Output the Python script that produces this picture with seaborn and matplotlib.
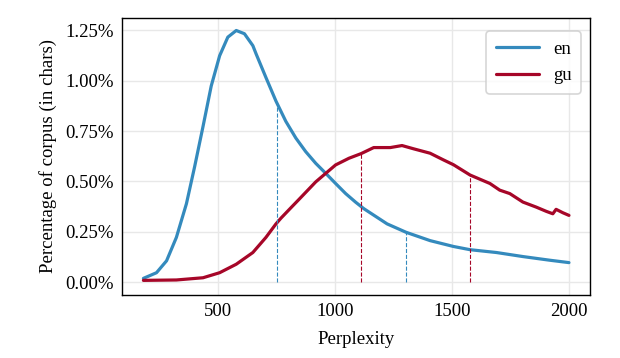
import matplotlib
matplotlib.use("Agg")
import matplotlib.pyplot as plt
import numpy as np
import pandas as pd
import seaborn as sns

# values (perplexity, % of corpus)
en_x = [180, 236, 279, 321, 364, 399, 435, 470, 506, 541, 577, 612, 648, 662, 704, 747, 789, 832,
        874, 917, 960, 1002, 1045, 1087, 1123, 1222, 1304, 1406, 1506, 1577, 1690, 1803, 1917, 2000]
en_y = [0.02, 0.048, 0.107, 0.223, 0.39, 0.573, 0.773, 0.973, 1.123, 1.215, 1.248, 1.232, 1.173,
        1.132, 1.015, 0.898, 0.798, 0.715, 0.648, 0.59, 0.54, 0.49, 0.44, 0.398, 0.365, 0.29,
        0.248, 0.207, 0.178, 0.162, 0.148, 0.128, 0.11, 0.098]

gu_x = [180, 321, 435, 506, 577, 648, 704, 747, 768, 811, 846, 917, 1002, 1059, 1111, 1165, 1236,
        1286, 1335, 1406, 1463, 1506, 1577, 1662, 1704, 1747, 1803, 1860, 1903, 1931, 1945, 1974, 2000]
gu_y = [0.01, 0.012, 0.023, 0.048, 0.09, 0.148, 0.223, 0.29, 0.318, 0.37, 0.412, 0.498, 0.582,
        0.615, 0.638, 0.668, 0.668, 0.678, 0.662, 0.64, 0.607, 0.583, 0.532, 0.49, 0.457, 0.44,
        0.398, 0.373, 0.352, 0.34, 0.362, 0.345, 0.332]

# dashed marker positions (perplexity)
en_marks = [750, 1303]
gu_marks = [1111, 1575]

colors = {"en": "#348ABD", "gu": "#A60628"}

df = pd.concat([
    pd.DataFrame({"Perplexity": en_x, "pct": en_y, "lang": "en"}),
    pd.DataFrame({"Perplexity": gu_x, "pct": gu_y, "lang": "gu"}),
])

sns.set_style("whitegrid")
plt.rcParams["font.family"] = ["Liberation Serif", "DejaVu Serif"]
plt.rcParams["font.size"] = 13.5
plt.rcParams["text.color"] = "black"
plt.rcParams["axes.labelcolor"] = "black"
plt.rcParams["xtick.color"] = "black"
plt.rcParams["ytick.color"] = "black"

fig = plt.figure(figsize=(6.2, 3.58), dpi=100)
ax = fig.add_axes([0.197, 0.176, 0.755, 0.774])

sns.lineplot(data=df, x="Perplexity", y="pct", hue="lang", palette=colors, linewidth=2.3, ax=ax)

for marks, xs, ys, lang in [(en_marks, en_x, en_y, "en"), (gu_marks, gu_x, gu_y, "gu")]:
    for m in marks:
        top = np.interp(m, xs, ys)
        ax.plot([m, m], [0, top], linestyle="--", color=colors[lang], linewidth=0.8)

yt = [0, 0.25, 0.5, 0.75, 1.0, 1.25]
ax.set_xticks([500, 1000, 1500, 2000])
ax.set_yticks(yt)
ax.set_yticklabels([f"{v:.2f}%" for v in yt])
ax.set_xlabel("Perplexity", fontsize=13.5, labelpad=8)
ax.set_ylabel("Percentage of corpus (in chars)", fontsize=13.5, labelpad=6)
ax.tick_params(direction="in", length=4, width=1, labelsize=13.5, pad=6)
ax.grid(True, color="#e8e8e8", linewidth=1)
for s in ax.spines.values():
    s.set_color("black")
    s.set_linewidth(1)

leg = ax.legend(title=None, loc="upper right", fontsize=13.5, handlelength=2.3,
                handletextpad=0.75, borderpad=0.5, labelspacing=0.5,
                bbox_to_anchor=(1.0, 0.986))
leg.get_frame().set_edgecolor("#cccccc")
leg.get_frame().set_linewidth(1.2)

fig.savefig("out.png", dpi=100)
